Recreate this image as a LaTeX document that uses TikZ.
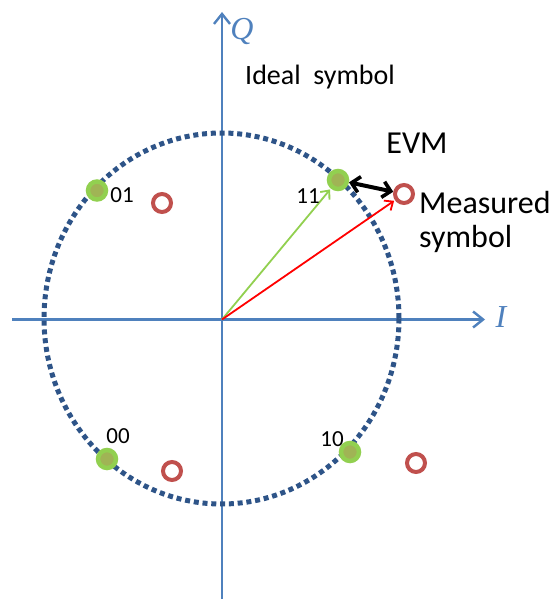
\documentclass[tikz,border=0pt]{standalone}
\usepackage{fontspec}
\setmainfont{Carlito}
\newfontfamily\axisfont{Liberation Serif}
\usetikzlibrary{arrows.meta}
\definecolor{axisblue}{RGB}{79,129,189}
\definecolor{dotblue}{RGB}{46,84,136}
\definecolor{idealgreen}{RGB}{146,208,80}
\definecolor{idealfill}{RGB}{160,180,85}
\definecolor{measred}{RGB}{192,80,77}
\tikzset{
  evmtip/.tip={Straight Barb[length=8pt,width=16pt,line width=3.6pt]},
  axisline/.style={draw=axisblue,line width=2.6pt,-{Straight Barb[length=10pt,width=16pt,line width=2.4pt]}},
  axislabel/.style={text=axisblue,font=\axisfont\itshape\fontsize{32}{32}\selectfont,inner sep=0pt},
  ideal/.style={circle,draw=idealgreen,fill=idealfill,line width=4.5pt,minimum size=18pt,inner sep=0pt},
  measured/.style={circle,draw=measred,fill=white,line width=4pt,minimum size=18pt,inner sep=0pt},
  lbl/.style={font=\fontsize{28}{33}\selectfont,inner sep=0pt,text=black},
  biglbl/.style={font=\fontsize{32}{34}\selectfont,inner sep=0pt,text=black},
  numlbl/.style={font=\fontsize{23}{23}\selectfont,inner sep=0pt,text=black},
  vec/.style={line width=1.8pt,-{Straight Barb[length=7pt,width=12pt,line width=1.8pt]},shorten >=1pt},
}
\begin{document}
\begin{tikzpicture}[x=1pt,y=-1pt]
\useasboundingbox (0,0) rectangle (554,599);
% axes
\coordinate (o) at (222,319.5);
\coordinate (qbot) at (222,599);
\coordinate (qtop) at (222,12);
\coordinate (ileft) at (12,319.5);
\coordinate (iright) at (485,319.5);
\draw[axisline] (qbot) -- (qtop);
\draw[axisline] (ileft) -- (iright);
\node[axislabel] (Q) at (242,32) {Q};
\node[axislabel] (I) at (501,317) {I};
% dotted circle
\draw[dotblue,line width=5pt,dash pattern=on 5pt off 3.8pt] (221.5,318.5) ellipse [x radius=177.5,y radius=185.5];
% symbols
\node[ideal] (s01) at (97,190.5) {};
\node[ideal] (s11) at (338,180) {};
\node[ideal] (s00) at (107,459) {};
\node[ideal] (s10) at (350,452) {};
\node[measured] (m01) at (162,203) {};
\node[measured] (m11) at (404,194) {};
\node[measured] (m00) at (172,471) {};
\node[measured] (m10) at (416,463) {};
% vectors
\draw[vec,draw=idealgreen] (o) -- (s11);
\draw[vec,draw=red] (o) -- (m11);
\draw[black,line width=4pt,evmtip-evmtip] (s11) -- (m11);
% labels
\node[numlbl] (l01) at (122,195) {01};
\node[numlbl] (l11) at (308,196) {11};
\node[numlbl] (l00) at (118,436) {00};
\node[numlbl] (l10) at (332,439) {10};
\node[lbl] (ideal) at (320,77) {Ideal\ \ symbol};
\node[biglbl] (evm) at (417,143) {EVM};
\node[biglbl,align=left,anchor=base west] (meas) at (419,247) {Measured\\symbol};
\end{tikzpicture}
\end{document}
